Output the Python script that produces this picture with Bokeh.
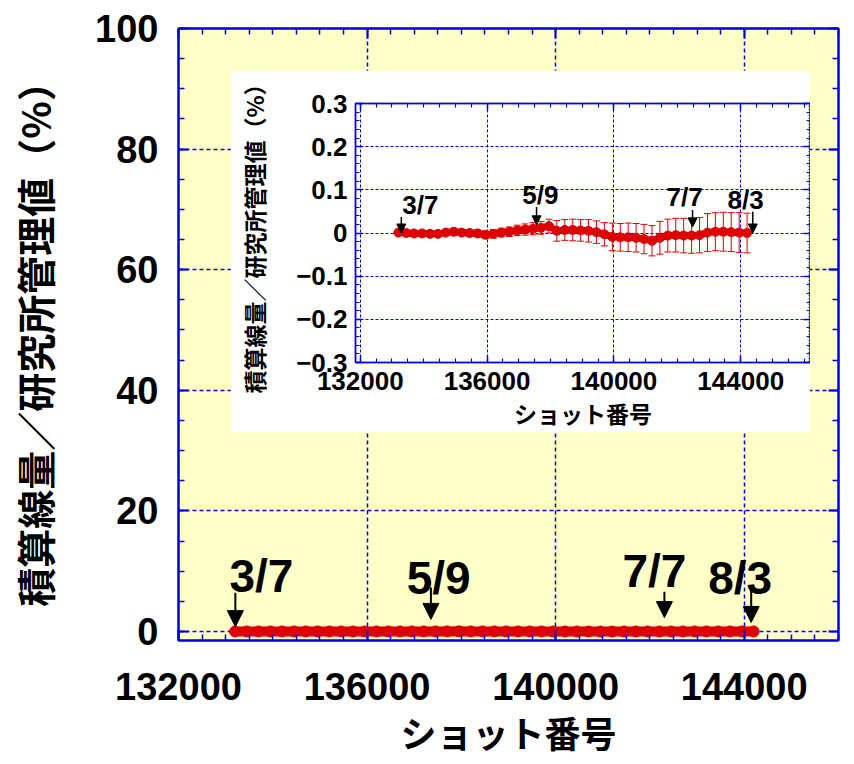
from bokeh.plotting import figure
from bokeh.models import (Range1d, LinearAxis, SingleIntervalTicker, FixedTicker,
                          BasicTickFormatter, CustomJSTickFormatter, ColumnDataSource,
                          Whisker, TeeHead, Arrow, NormalHead)
from bokeh.core.properties import value
from bokeh.embed import file_html
from bokeh.resources import INLINE

# ---------------- data ----------------
shots = [133200, 133450, 133700, 133950, 134200, 134450, 134700, 134950, 135200,
         135450, 135700, 135950, 136200, 136450, 136700, 136950, 137200, 137450,
         137700, 137950, 138200, 138450, 138700, 138950, 139200, 139450, 139700,
         139950, 140200, 140450, 140700, 140950, 141200, 141450, 141700, 141950,
         142200, 142450, 142700, 142950, 143200, 143450, 143700, 143950, 144200]
ratio = [0.001, 0.000, -0.001, -0.001, -0.002, -0.002, 0.001, 0.003, 0.001,
         0.000, -0.001, -0.004, -0.002, 0.001, 0.003, 0.006, 0.008, 0.010,
         0.012, 0.016, 0.005, 0.007, 0.007, 0.006, 0.005, 0.002, -0.003,
         -0.009, -0.010, -0.010, -0.011, -0.014, -0.018, -0.011, -0.006, -0.005,
         -0.006, -0.006, -0.005, 0.001, 0.003, 0.003, 0.002, 0.001, 0.000]
ratio_err = [0.001, 0.002, 0.002, 0.003, 0.004, 0.005, 0.006, 0.007, 0.007,
             0.008, 0.008, 0.009, 0.010, 0.010, 0.011, 0.012, 0.013, 0.014,
             0.015, 0.016, 0.024, 0.024, 0.025, 0.025, 0.026, 0.026, 0.027,
             0.032, 0.032, 0.033, 0.033, 0.034, 0.035, 0.038, 0.038, 0.039,
             0.040, 0.041, 0.041, 0.044, 0.044, 0.045, 0.045, 0.046, 0.046]

# date annotations (main chart)
dates = ["3/7", "5/9", "7/7", "8/3"]
date_text_x = [133760, 137520, 142095, 143915]
date_text_y = [9.2, 8.9, 10.1, 8.9]
date_arrow_x = [133206, 137354, 142307, 144148]
date_arrow_y0 = [6.4, 7.3, 6.6, 7.6]
date_arrow_y1 = [0.8, 2.0, 2.3, 1.5]

# date annotations (inset)
in_text_x = [133895, 137680, 142230, 144155]
in_text_y = [0.065, 0.088, 0.083, 0.076]
in_arrow_x = [133295, 137560, 142480, 144380]
in_arrow_y0 = [0.037, 0.060, 0.053, 0.049]
in_arrow_y1 = [0.000, 0.019, 0.014, 0.000]

inset_y_ticks = [-0.3, -0.2, -0.1, 0.0, 0.1, 0.2, 0.3]
inset_y_labels = ["\u22120.3", "\u22120.2", "\u22120.1", "0", "0.1", "0.2", "0.3"]

ylabel = "積算線量／研究所管理値（%）"
xlabel = "ショット番号"

# ---------------- style ----------------
BLUE = "#0000D8"
RED = "#DD0000"
YELLOW = "#FFFFC8"
ARIAL = "'Liberation Sans', Arial, sans-serif"
CJK = "'Noto Sans CJK JP', sans-serif"
BLANK = CustomJSTickFormatter(code="return ''")


def style_axis(ax, size, tick_in, minor_in, width):
    ax.axis_line_color = BLUE
    ax.axis_line_width = width
    ax.major_tick_line_color = BLUE
    ax.minor_tick_line_color = BLUE
    ax.major_tick_line_width = width
    ax.minor_tick_line_width = width * 0.75
    ax.major_tick_in = tick_in
    ax.major_tick_out = 0
    ax.minor_tick_in = minor_in
    ax.minor_tick_out = 0
    ax.major_label_text_font = ARIAL
    ax.major_label_text_font_style = "bold"
    ax.major_label_text_font_size = size
    ax.major_label_text_color = "black"


def style_title(ax, size):
    ax.axis_label_text_font = CJK
    ax.axis_label_text_font_style = "bold"
    ax.axis_label_text_font_size = size
    ax.axis_label_text_color = "black"


# ---------------- main figure ----------------
W, H = 846, 760
p = figure(width=W, height=H, output_backend="svg", toolbar_location=None,
           x_range=Range1d(132000, 146000), y_range=Range1d(-1.5, 100),
           min_border_left=178, min_border_right=8, min_border_top=28,
           min_border_bottom=117)
p.background_fill_color = YELLOW
p.border_fill_color = "white"
p.outline_line_color = BLUE
p.outline_line_width = 2

xt = SingleIntervalTicker(interval=4000, num_minor_ticks=8)
yt = SingleIntervalTicker(interval=20, num_minor_ticks=4)
p.xaxis.ticker = xt
p.yaxis.ticker = yt
p.xaxis.formatter = BasicTickFormatter(use_scientific=False)
style_axis(p.xaxis[0], "38px", 10, 6, 2)
style_axis(p.yaxis[0], "38px", 10, 6, 2)
p.xaxis.major_label_standoff = 32
p.yaxis.major_label_standoff = 20
p.xaxis.axis_label = xlabel
p.yaxis.axis_label = ylabel
style_title(p.xaxis[0], "36px")
style_title(p.yaxis[0], "39px")
p.xaxis.axis_label_standoff = 3
p.yaxis.axis_label_standoff = 30

for side, tk in (("right", yt), ("above", xt)):
    ax = LinearAxis(ticker=tk, formatter=BLANK)
    style_axis(ax, "10px", 10, 6, 2)
    ax.major_label_standoff = 0
    p.add_layout(ax, side)

for g in (p.xgrid[0], p.ygrid[0]):
    g.grid_line_color = BLUE
    g.grid_line_width = 1.5
    g.grid_line_dash = "4 3"

p.line(shots, ratio, line_color=RED, line_width=10, line_cap="round")
p.scatter(shots, ratio, size=11, marker="circle", fill_color=RED, line_color=RED)

p.text(date_text_x, date_text_y, text=dates, text_align="center",
       text_baseline="middle", text_font=value("Liberation Sans"),
       text_font_style="bold", text_font_size="46px", text_color="black")
arrows = ColumnDataSource(dict(x0=date_arrow_x, y0=date_arrow_y0,
                               x1=date_arrow_x, y1=date_arrow_y1))
p.add_layout(Arrow(source=arrows, x_start="x0", y_start="y0", x_end="x1", y_end="y1",
                   line_color="black", line_width=2,
                   end=NormalHead(size=16, fill_color="black", line_color="black")))

# ---------------- inset figure ----------------
IX, IY, IW, IH = 230, 70, 580, 362
q = figure(width=IW, height=IH, output_backend="svg", toolbar_location=None,
           x_range=Range1d(131850, 146200), y_range=Range1d(-0.3, 0.3),
           min_border_left=125, min_border_right=0, min_border_top=33,
           min_border_bottom=70)
q.background_fill_color = "white"
q.border_fill_color = "white"
q.outline_line_color = BLUE
q.outline_line_width = 1.5
q.outline_line_dash = "2 1"

qxt = SingleIntervalTicker(interval=4000, num_minor_ticks=8)
qyt = FixedTicker(ticks=inset_y_ticks,
                  minor_ticks=[round(-0.3 + 0.02 * i, 2) for i in range(31)])
q.xaxis.ticker = qxt
q.yaxis.ticker = qyt
q.xaxis.formatter = BasicTickFormatter(use_scientific=False)
q.yaxis.major_label_overrides = dict(zip(inset_y_ticks, inset_y_labels))
style_axis(q.xaxis[0], "26px", 7, 4, 1.5)
style_axis(q.yaxis[0], "26px", 7, 4, 1.5)
q.xaxis.major_label_standoff = 9
q.yaxis.major_label_standoff = 8
q.xaxis.axis_label = xlabel
q.yaxis.axis_label = ylabel
style_title(q.xaxis[0], "23px")
style_title(q.yaxis[0], "23px")
q.xaxis.axis_label_standoff = 3
q.yaxis.axis_label_standoff = 22

for side, tk in (("right", qyt), ("above", qxt)):
    ax = LinearAxis(ticker=tk, formatter=BLANK)
    style_axis(ax, "10px", 7, 4, 1.5)
    ax.major_label_standoff = 0
    q.add_layout(ax, side)

for g in (q.xgrid[0], q.ygrid[0]):
    g.grid_line_color = BLUE
    g.grid_line_width = 1
    g.grid_line_dash = "3 2"

err_src = ColumnDataSource(dict(
    x=shots,
    upper=[v + e for v, e in zip(ratio, ratio_err)],
    lower=[v - e for v, e in zip(ratio, ratio_err)]))
q.add_layout(Whisker(source=err_src, base="x", upper="upper", lower="lower",
                     line_color=RED, line_width=1,
                     upper_head=TeeHead(size=7, line_color=RED, line_width=1),
                     lower_head=TeeHead(size=7, line_color=RED, line_width=1)))
q.line(shots, ratio, line_color=RED, line_width=7, line_cap="round")
q.scatter(shots, ratio, size=9, marker="circle", fill_color=RED, line_color=RED)

q.text(in_text_x, in_text_y, text=dates, text_align="center",
       text_baseline="middle", text_font=value("Liberation Sans"),
       text_font_style="bold", text_font_size="26px", text_color="black")
in_arrows = ColumnDataSource(dict(x0=in_arrow_x, y0=in_arrow_y0,
                                  x1=in_arrow_x, y1=in_arrow_y1))
q.add_layout(Arrow(source=in_arrows, x_start="x0", y_start="y0", x_end="x1", y_end="y1",
                   line_color="black", line_width=1.5,
                   end=NormalHead(size=9, fill_color="black", line_color="black")))

# overlay the inset on the main chart (separate root, pulled up by a negative margin)
q.margin = (IY - H, 0, H - IY - IH, IX)

open("out.html", "w").write(file_html([p, q], INLINE))
